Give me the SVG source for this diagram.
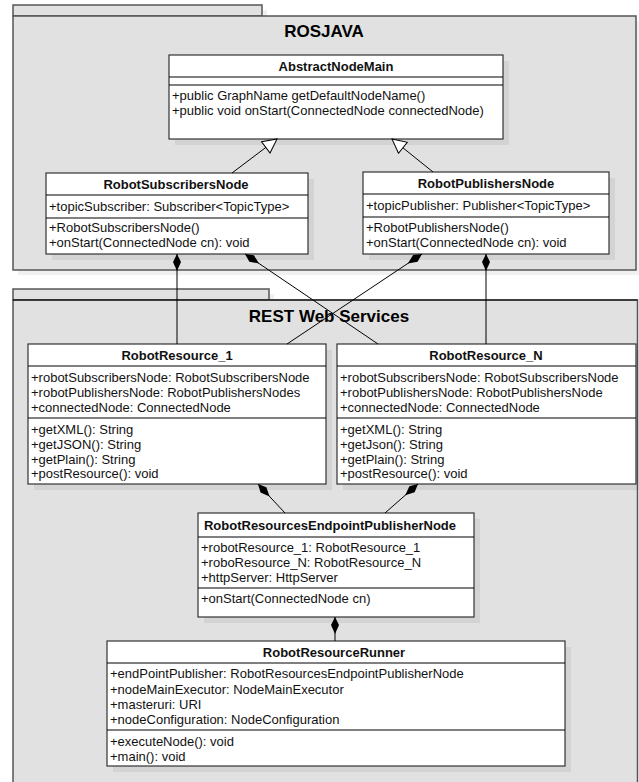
<svg xmlns="http://www.w3.org/2000/svg" width="639" height="782" viewBox="0 0 639 782">
<style>
text{font-family:"Liberation Sans",Arial,sans-serif;font-size:13px;fill:#111}
.t{font-weight:bold;text-anchor:middle}
.pt{font-weight:bold;font-size:17px;text-anchor:middle;fill:#000}
.pkg{fill:#e1e1e1;stroke:#555;stroke-width:1.5}
.sh{fill:#000;fill-opacity:0.06}
.box{fill:#fff;stroke:#333;stroke-width:1.2}
.div{stroke:#000;stroke-width:1}
.c{stroke:#000;stroke-width:1;fill:none}
</style>
<defs>
<marker id="dia" markerUnits="userSpaceOnUse" markerWidth="18" markerHeight="10" viewBox="0 -5 18 10" refX="0" refY="0" orient="auto">
<path d="M0,0 L8,-4 L17,0 L8,4 Z" fill="#000"/>
</marker>
<marker id="tri" markerUnits="userSpaceOnUse" markerWidth="16" markerHeight="16" viewBox="-1 -8 16 16" refX="14" refY="0" orient="auto">
<path d="M0,-7 L14,0 L0,7 Z" fill="#fff" stroke="#000" stroke-width="1"/>
</marker>
</defs>

<g id="pkg-rosjava">
<rect class="sh" x="18" y="10" width="249" height="11"/>
<rect class="sh" x="18" y="21" width="623" height="254"/>
<rect class="pkg" x="13" y="5" width="249" height="11"/>
<rect class="pkg" x="13" y="16" width="623" height="254"/>
<text class="pt" x="324" y="37">ROSJAVA</text>
</g>

<g id="pkg-rest">
<rect class="sh" x="18" y="294" width="256" height="11"/>
<rect class="pkg" x="13" y="289" width="256" height="11"/>
<rect class="pkg" x="13" y="300" width="624.5" height="500"/>
<line x1="13" y1="300" x2="637.5" y2="300" stroke="#000" stroke-width="1.2"/>
<text class="pt" x="329" y="322">REST Web Services</text>
</g>

<g id="AbstractNodeMain">
<rect class="sh" x="175" y="61" width="334" height="84"/>
<rect class="box" x="169" y="55" width="334" height="84"/>
<line class="div" x1="169" y1="77" x2="503" y2="77"/>
<line class="div" x1="169" y1="85" x2="503" y2="85"/>
<text class="t" x="336" y="71">AbstractNodeMain</text>
<text x="172" y="100">+public GraphName getDefaultNodeName()</text>
<text x="172" y="115">+public void onStart(ConnectedNode connectedNode)</text>
</g>

<g id="RobotSubscribersNode">
<rect class="sh" x="52" y="179" width="262" height="81"/>
<rect class="box" x="46" y="173" width="262" height="81"/>
<line class="div" x1="46" y1="195" x2="308" y2="195"/>
<line class="div" x1="46" y1="218" x2="308" y2="218"/>
<text class="t" x="176" y="189">RobotSubscribersNode</text>
<text x="49" y="211">+topicSubscriber: Subscriber&lt;TopicType&gt;</text>
<text x="49" y="232">+RobotSubscribersNode()</text>
<text x="49" y="247">+onStart(ConnectedNode cn): void</text>
</g>

<g id="RobotPublishersNode">
<rect class="sh" x="369" y="178" width="246" height="82"/>
<rect class="box" x="363" y="172" width="246" height="82"/>
<line class="div" x1="363" y1="194" x2="609" y2="194"/>
<line class="div" x1="363" y1="217" x2="609" y2="217"/>
<text class="t" x="486" y="188">RobotPublishersNode</text>
<text x="366" y="210">+topicPublisher: Publisher&lt;TopicType&gt;</text>
<text x="366" y="232">+RobotPublishersNode()</text>
<text x="366" y="247">+onStart(ConnectedNode cn): void</text>
</g>

<g id="RobotResource_1">
<rect class="sh" x="34" y="350" width="298" height="140"/>
<rect class="box" x="28" y="344" width="298" height="140"/>
<line class="div" x1="28" y1="366" x2="326" y2="366"/>
<line class="div" x1="28" y1="418" x2="326" y2="418"/>
<text class="t" x="177" y="360">RobotResource_1</text>
<text x="31" y="382">+robotSubscribersNode: RobotSubscribersNode</text>
<text x="31" y="397">+robotPublishersNode: RobotPublishersNodes</text>
<text x="31" y="412">+connectedNode: ConnectedNode</text>
<text x="31" y="434">+getXML(): String</text>
<text x="31" y="449">+getJSON(): String</text>
<text x="31" y="464">+getPlain(): String</text>
<text x="31" y="478">+postResource(): void</text>
</g>

<g id="RobotResource_N">
<rect class="sh" x="343" y="350" width="296" height="140"/>
<rect class="box" x="337" y="344" width="299" height="140"/>
<line class="div" x1="337" y1="366" x2="636" y2="366"/>
<line class="div" x1="337" y1="418" x2="636" y2="418"/>
<text class="t" x="486" y="360">RobotResource_N</text>
<text x="340" y="382">+robotSubscribersNode: RobotSubscribersNode</text>
<text x="340" y="397">+robotPublishersNode: RobotPublishersNode</text>
<text x="340" y="412">+connectedNode: ConnectedNode</text>
<text x="340" y="434">+getXML(): String</text>
<text x="340" y="449">+getJson(): String</text>
<text x="340" y="464">+getPlain(): String</text>
<text x="340" y="478">+postResource(): void</text>
</g>

<g id="RobotResourcesEndpointPublisherNode">
<rect class="sh" x="204" y="519" width="276" height="104"/>
<rect class="box" x="198" y="513" width="276" height="104"/>
<line class="div" x1="198" y1="537" x2="474" y2="537"/>
<line class="div" x1="198" y1="588" x2="474" y2="588"/>
<text class="t" x="330" y="530">RobotResourcesEndpointPublisherNode</text>
<text x="201" y="552">+robotResource_1: RobotResource_1</text>
<text x="201" y="567">+roboResource_N: RobotResource_N</text>
<text x="201" y="582">+httpServer: HttpServer</text>
<text x="201" y="603">+onStart(ConnectedNode cn)</text>
</g>

<g id="RobotResourceRunner">
<rect class="sh" x="113" y="647" width="458" height="125"/>
<rect class="box" x="107" y="641" width="458" height="125"/>
<line class="div" x1="107" y1="663" x2="565" y2="663"/>
<line class="div" x1="107" y1="730" x2="565" y2="730"/>
<text class="t" x="334" y="657">RobotResourceRunner</text>
<text x="110" y="678">+endPointPublisher: RobotResourcesEndpointPublisherNode</text>
<text x="110" y="694">+nodeMainExecutor: NodeMainExecutor</text>
<text x="110" y="709">+masteruri: URI</text>
<text x="110" y="724">+nodeConfiguration: NodeConfiguration</text>
<text x="110" y="746">+executeNode(): void</text>
<text x="110" y="761">+main(): void</text>
</g>

<g id="connectors">
<path class="c" d="M232,173 L277,139" marker-end="url(#tri)"/>
<path class="c" d="M433,172 L392,139" marker-end="url(#tri)"/>
<path class="c" d="M177,254 L177,344" marker-start="url(#dia)"/>
<path class="c" d="M245,254 L378,344" marker-start="url(#dia)"/>
<path class="c" d="M422,254 L287,344" marker-start="url(#dia)"/>
<path class="c" d="M486,254 L486,344" marker-start="url(#dia)"/>
<path class="c" d="M258,484 L285,513" marker-start="url(#dia)"/>
<path class="c" d="M418,484 L385,513" marker-start="url(#dia)"/>
<path class="c" d="M335,617 L335,641" marker-start="url(#dia)"/>
</g>
</svg>
